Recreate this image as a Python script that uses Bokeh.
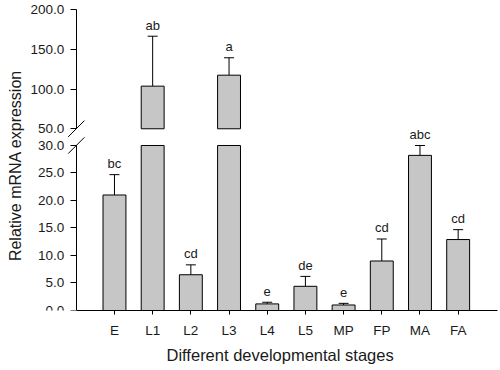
import numpy as np
from bokeh.plotting import figure
from bokeh.models import (Range1d, LinearAxis, FixedTicker, PrintfTickFormatter,
                          ColumnDataSource, Whisker, TeeHead, Label, Title)
from bokeh.embed import file_html
from bokeh.resources import INLINE
from bokeh.core.properties import value

# ---- data ----
stages = ["E", "L1", "L2", "L3", "L4", "L5", "MP", "FP", "MA", "FA"]
means = [21.0, 103.6, 6.5, 117.4, 1.2, 4.4, 1.0, 9.0, 28.2, 12.9]
err_tops = [24.7, 166.4, 8.3, 139.3, 1.5, 6.2, 1.3, 13.0, 30.0, 14.7]
letters = ["bc", "ab", "cd", "a", "e", "de", "e", "cd", "abc", "cd"]
lower_ticks = [0, 5, 10, 15, 20, 25, 30]
upper_ticks = [50, 100, 150, 200]
break_low, break_high = 30, 50

# ---- layout constants ----
FONT = value("Liberation Sans")
TXT = "#1a1a1a"
AXIS_X = 0.0
X_START, X_END = -1.775, 11.03
LOW_END = 56.36
UP_START, UP_END = -178.5, 211.3

pos = np.arange(1, len(stages) + 1, dtype=float)
m = np.array(means)
e = np.array(err_tops)
lab = np.array(letters)
up = m > break_high

p = figure(frame_width=489, frame_height=310,
           x_range=Range1d(X_START, X_END), y_range=Range1d(0, LOW_END),
           y_axis_location=None, toolbar_location=None, output_backend="svg",
           min_border_left=8, min_border_right=3, min_border_top=0, min_border_bottom=0,
           outline_line_color=None, background_fill_color="white")
p.extra_y_ranges = {"upper": Range1d(UP_START, UP_END)}
p.grid.visible = False

# lower segment bars (clipped at the break)
low_src = ColumnDataSource(dict(x=pos, top=np.minimum(m, break_low)))
p.vbar(x="x", top="top", bottom=0, width=0.6, source=low_src,
       fill_color="#c6c6c6", line_color="black", line_width=1)

# upper segment bars
up_src = ColumnDataSource(dict(x=pos[up], top=m[up]))
p.vbar(x="x", top="top", bottom=break_high, width=0.6, source=up_src,
       fill_color="#c6c6c6", line_color="black", line_width=1, y_range_name="upper")

# error bars
lo_err = ColumnDataSource(dict(x=pos[~up], lo=m[~up], hi=e[~up], t=lab[~up]))
hi_err = ColumnDataSource(dict(x=pos[up], lo=m[up], hi=e[up], t=lab[up]))
p.add_layout(Whisker(source=lo_err, base="x", lower="lo", upper="hi", dimension="height",
                     upper_head=TeeHead(size=10, line_color="black", line_width=1),
                     lower_head=None, line_color="black", line_width=1))
p.add_layout(Whisker(source=hi_err, base="x", lower="lo", upper="hi", dimension="height",
                     upper_head=TeeHead(size=10, line_color="black", line_width=1),
                     lower_head=None, line_color="black", line_width=1,
                     y_range_name="upper"))

# significance letters
p.text(x="x", y="hi", text="t", source=lo_err, text_align="center",
       text_baseline="alphabetic", y_offset=-11, text_font=FONT,
       text_font_size="13px", text_color=TXT)
p.text(x="x", y="hi", text="t", source=hi_err, text_align="center",
       text_baseline="alphabetic", y_offset=-11, text_font=FONT,
       text_font_size="13px", text_color=TXT, y_range_name="upper")

# y axes (two segments at the same location)
def style_y(ax):
    ax.major_tick_out = 6
    ax.major_tick_in = 0
    ax.minor_tick_line_color = None
    ax.axis_line_color = "black"
    ax.major_tick_line_color = "black"
    ax.major_label_text_font = "Liberation Sans"
    ax.major_label_text_font_size = "13.5px"
    ax.major_label_text_color = TXT
    ax.major_label_standoff = 6

ax_low = LinearAxis(fixed_location=AXIS_X, bounds=(0, break_low),
                    ticker=FixedTicker(ticks=lower_ticks),
                    formatter=PrintfTickFormatter(format="%.1f"))
ax_up = LinearAxis(fixed_location=AXIS_X, bounds=(break_high, upper_ticks[-1]),
                   y_range_name="upper", ticker=FixedTicker(ticks=upper_ticks),
                   formatter=PrintfTickFormatter(format="%.1f"))
style_y(ax_low)
style_y(ax_up)
p.add_layout(ax_low, "left")
p.add_layout(ax_up, "left")

# break marks
p.scatter(x=[AXIS_X], y=[break_low], marker="dash", size=23, angle=np.pi / 4,
          line_color="black", line_width=1)
p.scatter(x=[AXIS_X], y=[break_high], marker="dash", size=23, angle=np.pi / 4,
          line_color="black", line_width=1, y_range_name="upper")

# x axis
xa = p.xaxis[0]
xa.ticker = FixedTicker(ticks=list(pos))
xa.major_label_overrides = {int(i): s for i, s in zip(pos, stages)}
xa.bounds = (AXIS_X, X_END)
xa.major_tick_out = 4
xa.major_tick_in = 0
xa.minor_tick_line_color = None
xa.axis_line_color = "black"
xa.major_label_text_font = "Liberation Sans"
xa.major_label_text_font_size = "13.5px"
xa.major_label_text_color = TXT
xa.major_label_standoff = 8

# x axis title (below, centred on the axis rather than the frame)
p.add_layout(Title(text="Different developmental stages", align="left", offset=158,
                   standoff=6, text_font="Liberation Sans", text_font_size="16.5px",
                   text_font_style="normal", text_color=TXT), "below")

# y axis title
p.add_layout(Label(x=7, y=145, x_units="screen", y_units="screen",
                   text="Relative mRNA expression", angle=90, angle_units="deg",
                   text_align="center", text_baseline="middle",
                   text_font="Liberation Sans", text_font_size="16px",
                   text_color=TXT))

open("out.html", "w").write(file_html(p, INLINE))
